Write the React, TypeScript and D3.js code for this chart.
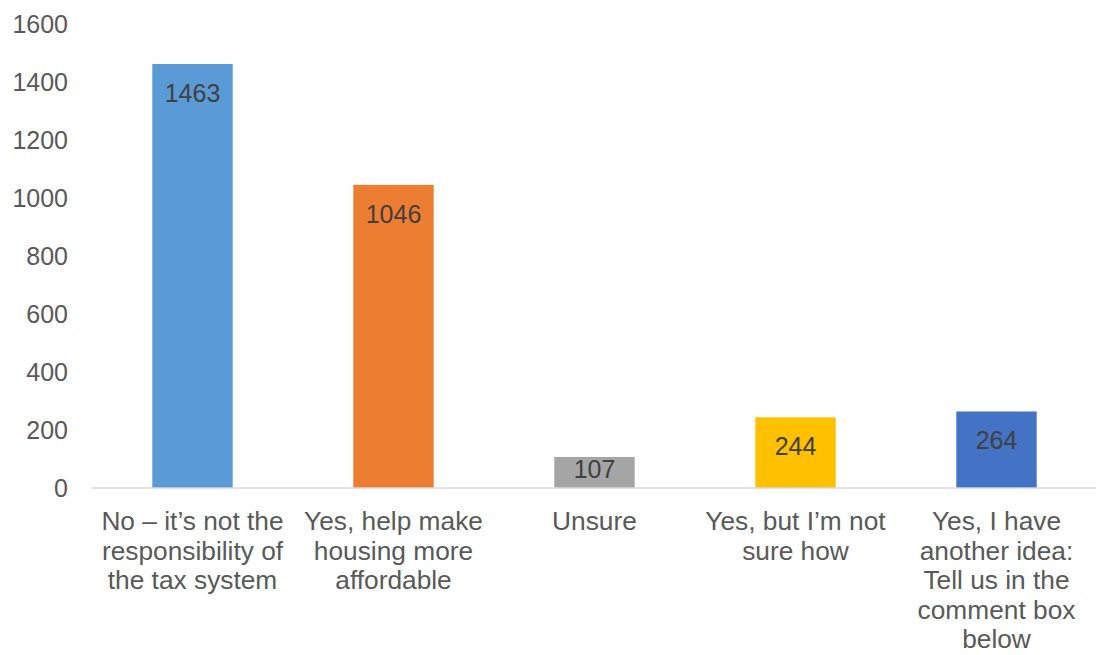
import React from "react";
import * as d3 from "d3";

const categories = [
  "No – it’s not the responsibility of the tax system",
  "Yes, help make housing more affordable",
  "Unsure",
  "Yes, but I’m not sure how",
  "Yes, I have another idea: Tell us in the comment box below",
];
const categoryLines = [
  ["No – it’s not the", "responsibility of", "the tax system"],
  ["Yes, help make", "housing more", "affordable"],
  ["Unsure"],
  ["Yes, but I’m not", "sure how"],
  ["Yes, I have", "another idea:", "Tell us in the", "comment box", "below"],
];
const values = [1463, 1046, 107, 244, 264];
const colors = ["#5B9BD5", "#ED7D31", "#A5A5A5", "#FFC000", "#4472C4"];
const yTicks = [0, 200, 400, 600, 800, 1000, 1200, 1400, 1600];

const W = 1096;
const H = 655;
const left = 92;
const right = 1097;
const top = 24.3;
const bottom = 488;
const FONT = "'Liberation Sans', Arial, sans-serif";

export default function App() {
  const x = d3.scaleBand<number>().domain(d3.range(categories.length)).range([left, right]).paddingInner(0.6).paddingOuter(0.3);
  const y = d3.scaleLinear().domain([0, 1600]).range([bottom, top]);
  const bw = x.bandwidth();
  return (
    <svg width={W} height={H} style={{ position: "absolute", left: 0, top: 0, background: "#fff" }}>
      <rect width={W} height={H} fill="#fff" />
      {yTicks.map((t) => (
        <text key={t} x={68} y={y(t) + 9} textAnchor="end" fontFamily={FONT} fontSize={25} fill="#595959">
          {t}
        </text>
      ))}
      {values.map((v, i) => {
        const bx = x(i)!;
        const by = y(v);
        const base = Math.min(by + 38, bottom - 10);
        return (
          <g key={i}>
            <rect x={bx} y={by} width={bw} height={bottom - by} fill={colors[i]} />
            <text x={bx + bw / 2} y={base} textAnchor="middle" fontFamily={FONT} fontSize={25} fill="#404040">
              {v}
            </text>
          </g>
        );
      })}
      <line x1={left} x2={right} y1={bottom} y2={bottom} stroke="#D9D9D9" strokeWidth={1.5} />
      {categoryLines.map((lines, i) => (
        <text key={i} textAnchor="middle" fontFamily={FONT} fontSize={26.3} fill="#595959">
          {lines.map((l, j) => (
            <tspan key={j} x={x(i)! + bw / 2} y={530 + j * 29.5}>
              {l}
            </tspan>
          ))}
        </text>
      ))}
    </svg>
  );
}
